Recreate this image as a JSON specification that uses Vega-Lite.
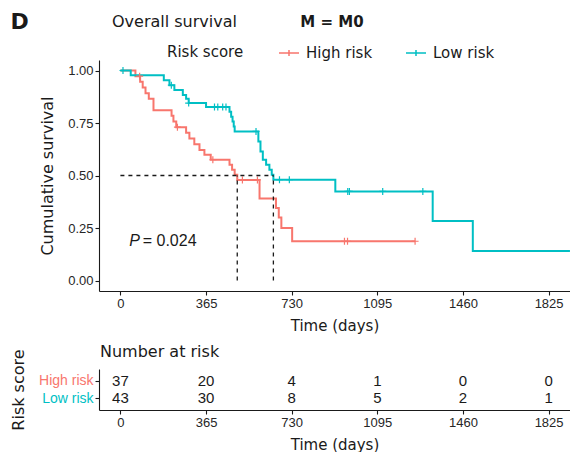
{
  "$schema": "https://vega.github.io/schema/vega-lite/v6.json",
  "background": "white",
  "padding": {"left": 10, "top": 10, "right": 0, "bottom": 0},
  "title": {"text": "D", "anchor": "start", "frame": "bounds", "font": "DejaVu Sans", "fontSize": 22, "fontWeight": "bold", "color": "#1a1a1a", "offset": -20},
  "spacing": 10,
  "resolve": {"scale": {"x": "independent", "y": "independent"}},
  "config": {
    "view": {"stroke": null},
    "axis": {"domainColor": "#1a1a1a", "domainWidth": 1.1, "tickColor": "#1a1a1a", "tickSize": 4, "tickWidth": 1.1, "grid": false, "labelFont": "Liberation Sans", "labelFontSize": 13, "labelColor": "#262626", "labelPadding": 2, "titleFont": "DejaVu Sans", "titleFontSize": 16, "titleFontWeight": "normal", "titleColor": "#1a1a1a"}
  },
  "datasets": {
    "curves": [
      {"g": "High risk", "t": 0, "s": 1.0}, {"g": "High risk", "t": 64, "s": 0.973}, {"g": "High risk", "t": 84, "s": 0.946}, {"g": "High risk", "t": 95, "s": 0.919}, {"g": "High risk", "t": 107, "s": 0.892}, {"g": "High risk", "t": 121, "s": 0.865}, {"g": "High risk", "t": 141, "s": 0.811}, {"g": "High risk", "t": 218, "s": 0.784}, {"g": "High risk", "t": 226, "s": 0.757}, {"g": "High risk", "t": 238, "s": 0.73}, {"g": "High risk", "t": 280, "s": 0.703}, {"g": "High risk", "t": 294, "s": 0.676}, {"g": "High risk", "t": 315, "s": 0.649}, {"g": "High risk", "t": 337, "s": 0.622}, {"g": "High risk", "t": 358, "s": 0.599}, {"g": "High risk", "t": 385, "s": 0.575}, {"g": "High risk", "t": 465, "s": 0.551}, {"g": "High risk", "t": 476, "s": 0.527}, {"g": "High risk", "t": 487, "s": 0.503}, {"g": "High risk", "t": 498, "s": 0.479}, {"g": "High risk", "t": 593, "s": 0.39}, {"g": "High risk", "t": 663, "s": 0.345}, {"g": "High risk", "t": 675, "s": 0.3}, {"g": "High risk", "t": 686, "s": 0.25}, {"g": "High risk", "t": 732, "s": 0.187}, {"g": "High risk", "t": 1256, "s": 0.187},
      {"g": "Low risk", "t": 0, "s": 1.0}, {"g": "Low risk", "t": 44, "s": 0.977}, {"g": "Low risk", "t": 185, "s": 0.954}, {"g": "Low risk", "t": 209, "s": 0.93}, {"g": "Low risk", "t": 230, "s": 0.907}, {"g": "Low risk", "t": 266, "s": 0.883}, {"g": "Low risk", "t": 280, "s": 0.866}, {"g": "Low risk", "t": 291, "s": 0.845}, {"g": "Low risk", "t": 365, "s": 0.826}, {"g": "Low risk", "t": 465, "s": 0.803}, {"g": "Low risk", "t": 472, "s": 0.78}, {"g": "Low risk", "t": 478, "s": 0.757}, {"g": "Low risk", "t": 483, "s": 0.733}, {"g": "Low risk", "t": 487, "s": 0.71}, {"g": "Low risk", "t": 588, "s": 0.662}, {"g": "Low risk", "t": 597, "s": 0.614}, {"g": "Low risk", "t": 607, "s": 0.575}, {"g": "Low risk", "t": 621, "s": 0.551}, {"g": "Low risk", "t": 635, "s": 0.527}, {"g": "Low risk", "t": 645, "s": 0.503}, {"g": "Low risk", "t": 652, "s": 0.48}, {"g": "Low risk", "t": 916, "s": 0.424}, {"g": "Low risk", "t": 1331, "s": 0.283}, {"g": "Low risk", "t": 1502, "s": 0.141}, {"g": "Low risk", "t": 1916, "s": 0.141}
    ],
    "censor": [
      {"g": "High risk", "t": 82, "s": 0.973}, {"g": "High risk", "t": 243, "s": 0.73}, {"g": "High risk", "t": 394, "s": 0.575}, {"g": "High risk", "t": 520, "s": 0.479}, {"g": "High risk", "t": 584, "s": 0.479}, {"g": "High risk", "t": 955, "s": 0.187}, {"g": "High risk", "t": 968, "s": 0.187}, {"g": "High risk", "t": 1256, "s": 0.187},
      {"g": "Low risk", "t": 11, "s": 1.0}, {"g": "Low risk", "t": 217, "s": 0.93}, {"g": "Low risk", "t": 291, "s": 0.845}, {"g": "Low risk", "t": 401, "s": 0.826}, {"g": "Low risk", "t": 415, "s": 0.826}, {"g": "Low risk", "t": 436, "s": 0.826}, {"g": "Low risk", "t": 450, "s": 0.826}, {"g": "Low risk", "t": 578, "s": 0.71}, {"g": "Low risk", "t": 678, "s": 0.48}, {"g": "Low risk", "t": 720, "s": 0.48}, {"g": "Low risk", "t": 969, "s": 0.424}, {"g": "Low risk", "t": 976, "s": 0.424}, {"g": "Low risk", "t": 1118, "s": 0.424}, {"g": "Low risk", "t": 1289, "s": 0.424}
    ],
    "median": [
      {"t": 0, "s": 0.5, "t2": 652, "s2": 0.5},
      {"t": 498, "s": 0, "t2": 498, "s2": 0.5},
      {"t": 652, "s": 0, "t2": 652, "s2": 0.5}
    ],
    "notes": [
      {"label": "P", "t": 38, "s": 0.186},
      {"label": "= 0.024", "t": 95, "s": 0.186},
      {"label": "M = M0", "t": 767, "s": 1.233}
    ],
    "risk": [
      {"g": "High risk", "t": 0, "n": 37}, {"g": "High risk", "t": 365, "n": 20}, {"g": "High risk", "t": 730, "n": 4}, {"g": "High risk", "t": 1095, "n": 1}, {"g": "High risk", "t": 1460, "n": 0}, {"g": "High risk", "t": 1825, "n": 0},
      {"g": "Low risk", "t": 0, "n": 43}, {"g": "Low risk", "t": 365, "n": 30}, {"g": "Low risk", "t": 730, "n": 8}, {"g": "Low risk", "t": 1095, "n": 5}, {"g": "Low risk", "t": 1460, "n": 2}, {"g": "Low risk", "t": 1825, "n": 1}
    ]
  },
  "vconcat": [
    {
      "width": 471,
      "height": 231,
      "title": {"text": "Overall survival", "anchor": "start", "frame": "group", "dx": 13, "font": "DejaVu Sans", "fontSize": 16, "fontWeight": "normal", "color": "#1a1a1a", "offset": -15},
      "layer": [
        {
          "data": {"name": "curves"},
          "mark": {"type": "line", "interpolate": "step-after", "strokeWidth": 2, "clip": true},
          "encoding": {
            "x": {"field": "t", "type": "quantitative", "scale": {"domain": [-91.25, 1916.25], "nice": false, "zero": false}, "axis": {"values": [0, 365, 730, 1095, 1460, 1825], "format": "d", "title": "Time (days)", "titleFontSize": 15, "labelPadding": 2, "titlePadding": 8}},
            "y": {"field": "s", "type": "quantitative", "scale": {"domain": [-0.05, 1.05], "nice": false, "zero": false}, "axis": {"values": [0, 0.25, 0.5, 0.75, 1], "format": ".2f", "title": "Cumulative survival", "titlePadding": 12}},
            "color": {"field": "g", "type": "nominal", "scale": {"domain": ["High risk", "Low risk"], "range": ["#F8766D", "#00BFC4"]},
              "legend": {"orient": "none", "legendX": 68, "legendY": -18, "direction": "horizontal", "columns": 2, "title": "Risk score", "titleOrient": "left", "titleFont": "DejaVu Sans", "titleFontSize": 15, "titleFontWeight": "normal", "titleColor": "#1a1a1a", "titlePadding": 34, "titleBaseline": "middle", "labelFont": "DejaVu Sans", "labelFontSize": 15, "labelColor": "#1a1a1a", "labelOffset": 6, "symbolType": "M-1,0L1,0M0,-0.3L0,0.3", "symbolSize": 400, "symbolStrokeWidth": 1.5, "columnPadding": 30}}
          }
        },
        {
          "data": {"name": "censor"},
          "mark": {"type": "point", "shape": "M-1,0L1,0M0,-1L0,1", "filled": false, "size": 49, "strokeWidth": 1.2, "opacity": 1, "clip": true},
          "encoding": {
            "x": {"field": "t", "type": "quantitative"},
            "y": {"field": "s", "type": "quantitative"},
            "color": {"field": "g", "type": "nominal"}
          }
        },
        {
          "data": {"name": "median"},
          "mark": {"type": "rule", "strokeDash": [4, 4], "color": "#1a1a1a", "strokeWidth": 1.3},
          "encoding": {
            "x": {"field": "t", "type": "quantitative"},
            "x2": {"field": "t2"},
            "y": {"field": "s", "type": "quantitative"},
            "y2": {"field": "s2"}
          }
        },
        {
          "data": {"name": "notes"},
          "transform": [{"filter": "datum.label == 'P'"}],
          "mark": {"type": "text", "align": "left", "baseline": "middle", "font": "Liberation Sans", "fontSize": 16, "fontStyle": "italic", "color": "#1a1a1a"},
          "encoding": {
            "x": {"field": "t", "type": "quantitative"},
            "y": {"field": "s", "type": "quantitative"},
            "text": {"field": "label"}
          }
        },
        {
          "data": {"name": "notes"},
          "transform": [{"filter": "datum.label == '= 0.024'"}],
          "mark": {"type": "text", "align": "left", "baseline": "middle", "font": "Liberation Sans", "fontSize": 16, "color": "#1a1a1a"},
          "encoding": {
            "x": {"field": "t", "type": "quantitative"},
            "y": {"field": "s", "type": "quantitative"},
            "text": {"field": "label"}
          }
        },
        {
          "data": {"name": "notes"},
          "transform": [{"filter": "datum.label == 'M = M0'"}],
          "mark": {"type": "text", "align": "left", "baseline": "middle", "font": "DejaVu Sans", "fontSize": 15, "fontWeight": "bold", "color": "#1a1a1a"},
          "encoding": {
            "x": {"field": "t", "type": "quantitative"},
            "y": {"field": "s", "type": "quantitative"},
            "text": {"field": "label"}
          }
        }
      ]
    },
    {
      "width": 471,
      "height": 41,
      "title": {"text": "Number at risk", "anchor": "start", "frame": "group", "dx": 1, "font": "DejaVu Sans", "fontSize": 16, "fontWeight": "normal", "color": "#1a1a1a", "offset": -11},
      "data": {"name": "risk"},
      "mark": {"type": "text", "font": "Liberation Sans", "fontSize": 15, "color": "#1a1a1a", "baseline": "middle"},
      "encoding": {
        "x": {"field": "t", "type": "quantitative", "scale": {"domain": [-91.25, 1916.25], "nice": false, "zero": false}, "axis": {"values": [0, 365, 730, 1095, 1460, 1825], "format": "d", "title": "Time (days)", "titleFontSize": 15, "labelPadding": 2, "titlePadding": 8}},
        "y": {"field": "g", "type": "nominal", "scale": {"type": "point", "domain": ["High risk", "Low risk"], "padding": 0.65}, "axis": {"title": "Risk score", "labelFontSize": 14, "titlePadding": 12, "labelColor": {"condition": {"test": "datum.value === 'High risk'", "value": "#F8766D"}, "value": "#00BFC4"}}},
        "text": {"field": "n", "type": "quantitative"}
      }
    }
  ]
}
